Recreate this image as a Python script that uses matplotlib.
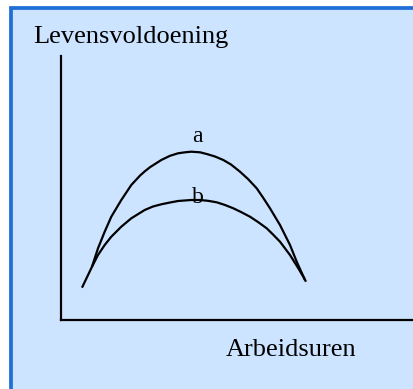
import matplotlib.pyplot as plt
from matplotlib.patches import Rectangle

# curve a: hoge piek (arbitraire eenheden)
a_x = [31, 37, 43.7, 50.3, 60.3, 70.3, 79, 83.7, 89, 100.3, 109, 117, 124, 130.3,
       139, 145.7, 154, 162.3, 170, 179, 187, 195.7, 202, 209, 219, 229, 235.7, 244]
a_y = [53.3, 71.7, 88.3, 103.3, 120, 135, 144.4, 148.6, 152.8, 160, 164.2, 166.7, 167.7, 168.3,
       167.7, 166, 163.5, 160, 155.5, 148.3, 141, 131.7, 122.5, 111.7, 95, 75, 58.3, 40]

# curve b: lagere piek
b_x = [21, 31, 37, 43.7, 50.3, 60.3, 70.3, 83.7, 92, 100.3, 109, 117, 130.3, 139,
       147, 155.7, 164, 172.3, 180, 189, 197, 205.7, 212, 219, 229, 237.3, 242.3, 245]
b_y = [32.3, 53.3, 65, 75, 83.3, 93.3, 101.7, 110, 113.5, 115.7, 117.5, 119, 120, 120,
       119.2, 117.7, 115, 111.7, 108, 103.3, 98, 91.7, 85.5, 78.3, 65, 51.7, 43.3, 38.3]

labels = ["a", "b"]
label_pos = [(136.3, 177.7), (137, 116.7)]

W, H = 414, 389
fig = plt.figure(figsize=(W / 100, H / 100), dpi=100)
fig.patch.set_facecolor("white")

# lichtblauw vlak met blauwe rand (rechts/onder buiten beeld)
bg = Rectangle((11 / W, 1 - 430 / H), 430 / W, 422.5 / H,
               transform=fig.transFigure, facecolor="#CCE4FF",
               edgecolor="#1F6FD6", linewidth=2.7, zorder=0)
fig.add_artist(bg)

ax = fig.add_axes([61 / W, 1 - 320 / H, 351 / W, 264 / H])
ax.set_facecolor("none")
ax.set_xlim(0, 351)
ax.set_ylim(0, 264)
for s in ["top", "right"]:
    ax.spines[s].set_visible(False)
for s in ["left", "bottom"]:
    ax.spines[s].set_linewidth(1.6)
    ax.spines[s].set_color("black")
ax.set_xticks([])
ax.set_yticks([])

ax.plot(a_x, a_y, color="black", lw=1.6, solid_capstyle="butt")
ax.plot(b_x, b_y, color="black", lw=1.6, solid_capstyle="butt")

for lab, (x, y) in zip(labels, label_pos):
    ax.text(x, y, lab, ha="center", va="baseline", fontsize=17,
            family="Liberation Serif")

fig.text(33 / W, 1 - 43 / H, "Levensvoldoening", ha="left", va="baseline",
         fontsize=19, family="Liberation Serif")
fig.text(226 / W, 1 - 356 / H, "Arbeidsuren", ha="left", va="baseline",
         fontsize=19, family="Liberation Serif")

fig.savefig("out.png", dpi=100)
